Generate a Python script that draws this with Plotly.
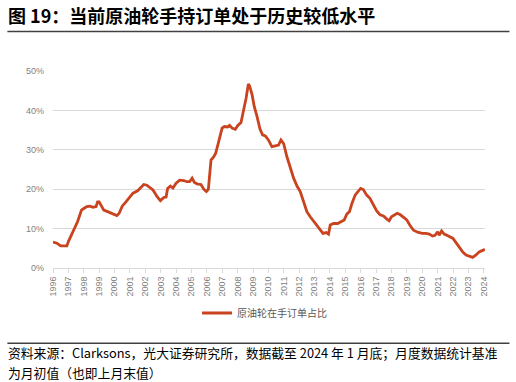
import plotly.graph_objects as go

t_years = [1996.0, 1996.25, 1996.5, 1996.8, 1996.9, 1997.0, 1997.2, 1997.45, 1997.6, 1997.75,
           1997.85, 1998.0, 1998.2, 1998.4, 1998.6, 1998.8, 1998.9, 1999.0, 1999.15, 1999.3,
           1999.55, 1999.75, 2000.0, 2000.15, 2000.3, 2000.5, 2000.7, 2001.0, 2001.2, 2001.5,
           2001.7, 2001.9, 2002.1, 2002.3, 2002.5, 2002.77, 2002.98, 2003.2, 2003.35, 2003.45,
           2003.63, 2003.8, 2004.0, 2004.23, 2004.5, 2004.7, 2004.88, 2005.04, 2005.19, 2005.4,
           2005.62, 2005.8, 2005.97, 2006.1, 2006.18, 2006.27, 2006.44, 2006.57, 2006.7, 2006.83,
           2006.99, 2007.14, 2007.35, 2007.48, 2007.64, 2007.85, 2008.0, 2008.22, 2008.39, 2008.55,
           2008.7, 2008.78, 2008.94, 2009.08, 2009.26, 2009.45, 2009.62, 2009.8, 2010.0, 2010.23,
           2010.45, 2010.66, 2010.82, 2010.99, 2011.2, 2011.42, 2011.64, 2011.86, 2012.07, 2012.29,
           2012.5, 2012.72, 2012.94, 2013.15, 2013.37, 2013.55, 2013.76, 2013.91, 2014.02, 2014.23,
           2014.5, 2014.71, 2014.93, 2015.1, 2015.27, 2015.43, 2015.64, 2015.82, 2016.0, 2016.17,
           2016.39, 2016.6, 2016.83, 2017.04, 2017.26, 2017.48, 2017.7, 2017.85, 2018.0, 2018.2,
           2018.37, 2018.58, 2018.8, 2019.0, 2019.22, 2019.43, 2019.7, 2020.0, 2020.24, 2020.46,
           2020.67, 2020.83, 2021.0, 2021.1, 2021.26, 2021.43, 2021.7, 2022.0, 2022.22, 2022.43,
           2022.65, 2022.85, 2023.06, 2023.28, 2023.5, 2023.7, 2024.0, 2024.08]
share_pct = [6.6, 6.3, 5.6, 5.5, 5.6, 6.7, 8.4, 10.1, 11.8, 13.5,
             14.7, 15.1, 15.6, 15.7, 15.4, 15.6, 16.8, 16.8, 15.6, 14.7,
             14.3, 14.0, 13.7, 13.3, 13.9, 15.7, 16.6, 17.9, 19.0, 19.6,
             20.4, 21.2, 21.0, 20.3, 19.8, 18.1, 17.1, 17.9, 18.0, 20.2,
             20.8, 20.3, 21.5, 22.3, 22.2, 21.9, 21.9, 22.8, 21.7, 21.3,
             21.2, 20.0, 19.4, 20.0, 23.2, 27.4, 28.2, 29.1, 31.0, 32.9,
             35.5, 35.9, 35.8, 36.2, 35.5, 35.2, 36.1, 36.9, 39.7, 43.1,
             46.7, 46.2, 44.0, 41.0, 38.5, 35.3, 33.8, 33.5, 32.5, 30.8,
             31.0, 31.2, 32.5, 31.6, 28.3, 25.3, 22.8, 20.8, 19.4, 16.8,
             14.3, 13.0, 11.8, 10.9, 9.6, 8.8, 9.0, 8.6, 10.9, 11.3,
             11.3, 11.8, 12.2, 13.7, 14.3, 16.4, 18.5, 19.4, 20.2, 19.9,
             18.5, 17.7, 16.0, 14.5, 13.5, 13.2, 12.4, 12.0, 13.0, 13.5,
             13.9, 13.5, 12.8, 12.2, 10.7, 9.6, 9.1, 8.8, 8.8, 8.6,
             8.1, 8.3, 9.2, 8.3, 9.4, 8.6, 8.1, 7.5, 6.3, 5.0,
             4.0, 3.3, 3.0, 2.7, 3.3, 4.1, 4.6, 4.7]

year_ticks = [1996, 1997, 1998, 1999, 2000, 2001, 2002, 2003, 2004, 2005, 2006, 2007, 2008, 2009,
              2010, 2011, 2012, 2013, 2014, 2015, 2016, 2017, 2018, 2019, 2020, 2021, 2022, 2023, 2024]
year_labels = [str(y) for y in year_ticks]
y_ticks = [0, 10, 20, 30, 40, 50]
y_labels = ["0%", "10%", "20%", "30%", "40%", "50%"]

series_name = "原油轮在手订单占比"
title_text = "图 19：当前原油轮手持订单处于历史较低水平"
source_line1 = "资料来源：Clarksons，光大证券研究所，数据截至 2024 年 1 月底；月度数据统计基准"
source_line2 = "为月初值（也即上月末值）"

W, H = 516, 382
L, R, T, B = 52.7, 485.5, 71.0, 268.0
FONT = "Liberation Sans, Noto Sans CJK SC, sans-serif"
CJK = "Noto Sans CJK SC, sans-serif"
GRID = "#D9D9D9"
LINE = "#C9431F"


def px(xp):
    return (xp - L) / (R - L)


def py(yp):
    return (B - yp) / (B - T)


fig = go.Figure()
fig.add_trace(go.Scatter(x=t_years, y=share_pct, mode="lines", name=series_name,
                         line=dict(color=LINE, width=2.8), showlegend=True))

fig.update_layout(
    width=W, height=H,
    margin=dict(l=L, r=W - R, t=T, b=H - B, pad=0),
    paper_bgcolor="white", plot_bgcolor="white",
    font=dict(family=FONT, size=9, color="#7F7F7F"),
    xaxis=dict(range=[1996, 2024.08], tickmode="array", tickvals=year_ticks, ticktext=year_labels,
               tickangle=-90, showgrid=False, zeroline=False, showline=True, linecolor=GRID,
               linewidth=1, ticks="outside", ticklen=4, tickcolor=GRID,
               tickfont=dict(family=FONT, size=9, color="#7F7F7F")),
    yaxis=dict(range=[0, 50], tickmode="array", tickvals=y_ticks, ticktext=y_labels,
               showgrid=True, gridcolor=GRID, gridwidth=1, zeroline=False, showline=False,
               ticks="", ticklabelstandoff=8,
               tickfont=dict(family=FONT, size=9, color="#7F7F7F")),
    legend=dict(orientation="h", x=px(197), xanchor="left", y=py(313), yanchor="middle",
                font=dict(family=CJK, size=10, color="#595959"), bgcolor="rgba(0,0,0,0)",
                itemwidth=30),
    showlegend=True,
)

# Title and rules
fig.add_annotation(text="<b>" + title_text + "</b>", xref="paper", yref="paper",
                   x=px(6), y=py(15), xanchor="left", yanchor="middle", showarrow=False,
                   font=dict(family=CJK, size=18, color="#000000"))
fig.add_shape(type="line", xref="paper", yref="paper", x0=px(7), x1=px(510), y0=py(31.5), y1=py(31.5),
              line=dict(color="#404040", width=1.5))
fig.add_shape(type="line", xref="paper", yref="paper", x0=px(7), x1=px(510), y0=py(343.3), y1=py(343.3),
              line=dict(color="#404040", width=1.5))
fig.add_annotation(text=source_line1, xref="paper", yref="paper",
                   x=px(6), y=py(352.5), xanchor="left", yanchor="middle", showarrow=False,
                   font=dict(family=CJK, size=12.8, color="#000000"))
fig.add_annotation(text=source_line2, xref="paper", yref="paper",
                   x=px(6), y=py(372), xanchor="left", yanchor="middle", showarrow=False,
                   font=dict(family=CJK, size=12.8, color="#000000"))

fig.write_html("out.html", config={"displayModeBar": False},
               post_script="document.body.style.margin='0';document.body.style.padding='0';")
